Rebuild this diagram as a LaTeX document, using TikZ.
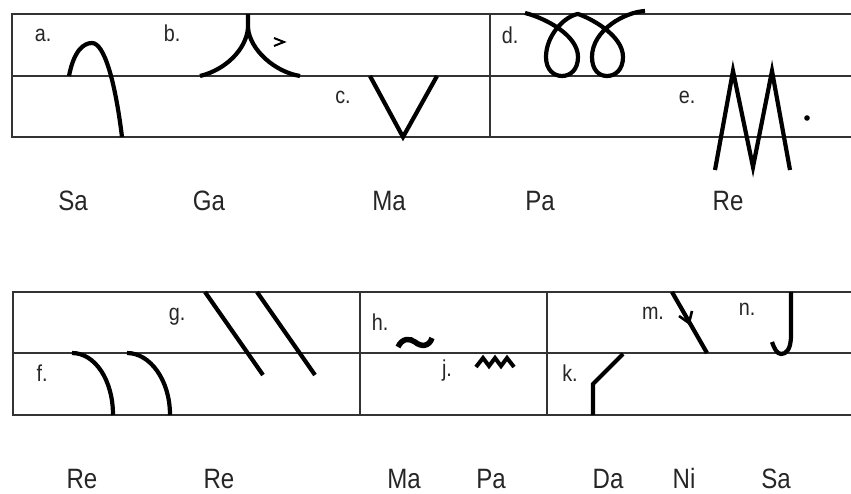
\documentclass[tikz,border=0pt]{standalone}
\usepackage{fontspec}
\setmainfont[FakeStretch=0.86]{Liberation Sans}
\begin{document}
\begin{tikzpicture}[x=1pt,y=-1pt,
  staff/.style={draw=black!80, line width=2pt},
  stroke/.style={draw=black, line width=4.2pt},
  lab/.style={font=\fontsize{23}{25}\selectfont, text=black!85, inner sep=0pt, anchor=base},
  note/.style={font=\fontsize{28}{30}\selectfont, text=black!85, inner sep=0pt, anchor=base}]
\useasboundingbox (0,0) rectangle (851,494);
% top staff
\draw[staff] (851,14) -- (12,14) -- (12,137) -- (851,137);
\draw[staff] (12,76) -- (851,76);
\draw[staff] (490,14) -- (490,137);
% bottom staff
\draw[staff] (851,292) -- (13,292) -- (13,415) -- (851,415);
\draw[staff] (13,353) -- (851,353);
\draw[staff] (360,292) -- (360,415);
\draw[staff] (547,292) -- (547,415);
% labels
\node[lab] (la) at (43,42) {a.};
\node[lab] (lb) at (172,42) {b.};
\node[lab] (lc) at (343,104) {c.};
\node[lab] (ld) at (510,44) {d.};
\node[lab] (le) at (687,104) {e.};
\node[lab] (lf) at (42,381) {f.};
\node[lab] (lg) at (177,320) {g.};
\node[lab] (lh) at (380,330) {h.};
\node[lab] (lj) at (447,376) {j.};
\node[lab] (lk) at (570,381) {k.};
\node[lab] (lm) at (653,319) {m.};
\node[lab] (ln) at (747,316) {n.};
% notes
\node[note] (n1) at (73,211) {Sa};
\node[note] (n2) at (209,211) {Ga};
\node[note] (n3) at (389,211) {Ma};
\node[note] (n4) at (540,211) {Pa};
\node[note] (n5) at (728,211) {Re};
\node[note] (n6) at (82,488) {Re};
\node[note] (n7) at (219,488) {Re};
\node[note] (n8) at (404,488) {Ma};
\node[note] (n9) at (491,488) {Pa};
\node[note] (n10) at (608,488) {Da};
\node[note] (n11) at (684,488) {Ni};
\node[note] (n12) at (776,488) {Sa};
% a
\draw[stroke] (69,76) .. controls (74,50) and (84,43) .. (92,43) .. controls (104,43) and (115,80) .. (122,137);
% b
\draw[stroke] (248,14) -- (248,28) .. controls (246,50) and (225,70) .. (200,76);
\draw[stroke] (248,28) .. controls (250,50) and (275,72) .. (300,76);
\draw[draw=black, line width=2pt, line join=miter] (274,38) -- (284,42) -- (274,46);
% c
\draw[stroke, line join=miter] (370,76) -- (403,137) -- (437,76);
% d
\draw[stroke] (525,13) .. controls (545,18) and (578,35) .. (578,57) .. controls (578,70) and (570,76) .. (562,76) .. controls (554,76) and (546,70) .. (546,57) .. controls (546,35) and (565,16) .. (578,14) .. controls (590,18) and (623,35) .. (623,57) .. controls (623,70) and (615,76) .. (607,76) .. controls (599,76) and (592,70) .. (592,57) .. controls (592,30) and (625,12) .. (645,11);
% e
\draw[stroke, line join=miter, miter limit=20] (715,170) -- (733,71) -- (753,167) -- (772,71) -- (790,170);
\fill (807,118) circle (2.8);
% f
\draw[stroke] (72,353) .. controls (95,353) and (113,380) .. (113,415);
\draw[stroke] (127,353) .. controls (150,353) and (170,380) .. (170,415);
% g
\draw[stroke] (205,292) -- (263,375);
\draw[stroke] (257,292) -- (315,375);
% h
\draw[draw=black, line width=5.5pt] (398,347) .. controls (402,338) and (410,338) .. (415,342) .. controls (421,347) and (429,347) .. (432,338);
% j
\draw[draw=black, line width=4pt, line join=miter] (476,367) -- (483,358) -- (489,366) -- (495,358) -- (501,366) -- (507,358) -- (514,367);
% k
\draw[stroke, line join=miter] (593,415) -- (593,384) -- (623,354);
% m
\draw[stroke] (672,292) -- (707,353);
\draw[draw=black, line width=2.6pt, line join=miter] (679,316) -- (689,323) -- (692,311);
% n
\draw[stroke] (791,292) -- (791,335) .. controls (791,350) and (786,354) .. (781,354) .. controls (777,354) and (774,348) .. (772,342);
\end{tikzpicture}
\end{document}
